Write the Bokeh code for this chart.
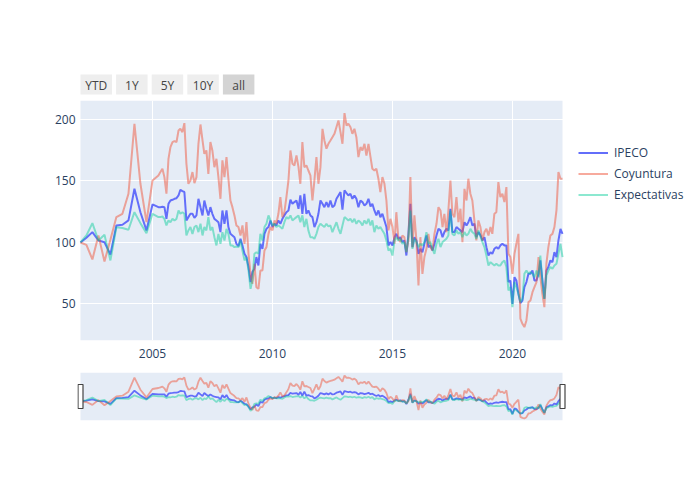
import pandas as pd
from bokeh.plotting import figure
from bokeh.layouts import column
from bokeh.models import (ColumnDataSource, Range1d, FixedTicker, Legend, LegendItem,
                          DatetimeTickFormatter)
from bokeh.core.properties import value
from bokeh.embed import file_html
from bokeh.resources import INLINE

# ---------------- data ----------------
# quarterly 2002Q1..2005Q2, then monthly 2005-05..2022-02
dates_quarterly = list(pd.date_range("2002-01-01", "2005-04-01", freq="QS"))
dates_monthly = list(pd.date_range("2005-05-01", "2022-02-01", freq="MS"))
dates = dates_quarterly + dates_monthly

ipeco = [
    100, 103.8, 108.4, 101.6, 100.2, 90.2, 113.8, 114.4, 117.9, 143.7, 124.6, 109.8, 130.9, 128.7,
    128.7, 129, 128.7, 119.2, 131.4, 134.1, 134.7, 135.5, 136, 138.2, 142.8, 141.7, 141, 117.9,
    120.6, 123.3, 123.3, 120, 122, 135.5, 128.7, 122, 134.1, 127.4, 122, 128.7, 123.3, 119.2,
    117.9, 116.5, 108.4, 126, 115.2, 126, 112.5, 107, 105.7, 104.3, 98.9,
    97, 103, 97.6, 90.8, 88.1, 80, 67.8, 75.9, 78.6, 88.1, 81.3, 98.9, 94.8, 107, 111.1, 112.5,
    117.9, 112.5, 115.2, 113.8, 117.9, 115.2, 119.2, 122, 124.6, 126, 134.7, 131.4, 132.8, 134.1,
    127.4, 138.2, 123.3, 139.6, 123.3, 126, 122, 120.6, 112.5, 116.5,
    123.3, 134.1, 131.4, 128.7, 132.8, 128.7, 134.1, 128.7, 130, 135.5, 138.2, 140.9, 126.6, 142.3,
    140.1, 138.2, 139.6, 135.5, 138.2, 135.5, 128.7, 134.1, 132.8, 130, 131.4, 135.5, 129.2, 131.4,
    126, 122, 126, 120.6, 123.3, 117.9, 112.5, 97.6, 100.3, 97.6, 104.3, 107,
    103, 104.3, 100.3, 101.6, 89.4, 107, 131.4, 96.2, 104.3, 101.6, 90.8, 94.8, 92.1, 98.9, 105.7,
    96.2, 97.6, 93.5, 98.9, 105.7, 111.1, 109.8, 104.3, 108.4, 111.1, 109.8, 127.4, 108.4, 108.4,
    112.5, 111.1, 109.8, 108.4, 116.5, 113.8, 116.5, 120.6, 113.8, 115.2, 104.3,
    108.4, 106, 101.6, 104.3, 96.2, 89.4, 92.1, 90.8, 94.8, 96.2, 94.8, 97.6, 98.9, 97.6, 97.6,
    67.8, 69.1, 50.1, 71.8, 69.1, 58.3, 50.7, 52.8, 63.7, 67.8, 74.5, 74.5, 77.2, 69.1, 69.1,
    74.5, 85.4, 69.1, 54.2, 77.2, 80, 85.4, 84, 92.1, 88.1, 101.6, 111.1, 107,
]

coyuntura = [
    100, 98, 86.2, 105.7, 84.6, 102.2, 120.6, 123.3, 139.6, 196.5, 147.7, 116.5, 150.4, 154.5,
    157.2, 159.9, 153.1, 139.6, 168, 177.5, 181.6, 182.4, 181.6, 191, 192.4, 189.7, 197, 164,
    147.7, 150.4, 157.2, 148.2, 153.1, 180.2, 195.9, 182.9, 172.1, 174.8, 155.8, 181.6, 174.8, 161.2,
    168, 153.1, 135.5, 166.7, 153.1, 169.4, 151.8, 134.1, 128.7, 122, 113.8,
    112.5, 105.7, 113.8, 98.9, 116.5, 90.8, 74.5, 66.4, 82.7, 63.7, 62.3, 77.2, 77.2, 93.5, 96.2,
    107, 112.5, 109.8, 117.9, 115.2, 123.3, 136.9, 120.6, 124.6, 136.9, 150.4, 174.8, 164, 162.6,
    170.7, 161.2, 147.7, 181.6, 161.2, 162.6, 158.5, 154.5, 134.1, 150.4, 169.4,
    147.7, 161.2, 192.4, 182.9, 176.2, 180.2, 182.9, 185.6, 188.3, 193.8, 199.2, 189.7, 180.2, 205.1,
    195.1, 196.5, 193.8, 188.3, 192.4, 185.6, 169.4, 177.5, 174.8, 180.2, 170.7, 180.2, 169.4, 159.9,
    158.5, 159.9, 151.8, 140.9, 153.1, 147.7, 134.1, 109.8, 119.2, 112.5, 98.9, 124.6,
    103, 100.3, 105.7, 104.3, 92.1, 101.6, 153.1, 96.2, 122, 101.6, 65, 104.3, 74.5, 88.1, 94.8,
    107, 96.2, 93.5, 107, 115.2, 128.7, 126, 112.5, 123.3, 108.4, 126, 150.4, 123.3, 120.6,
    136.9, 116.5, 127.4, 100.3, 143.6, 134.1, 151.8, 139.6, 134.1, 117.9, 101.6,
    117.9, 112.5, 101.6, 108.4, 111.1, 105.7, 112.5, 107, 123.3, 124.6, 149, 136.9, 139.6, 132.8, 145,
    90.8, 88.1, 74.5, 90.8, 98.9, 107, 38, 33.9, 31.2, 36.6, 51.5, 52.8, 59.6, 63.7, 67.8,
    88.1, 71.8, 58.3, 47.4, 82.7, 96.2, 105.7, 107, 112.5, 126, 157.2, 151.8, 151.8,
]

expectativas = [
    100, 105.7, 115.7, 101.6, 106.3, 85.4, 112.4, 111.7, 110.3, 124.6, 115.7, 107.6, 123.3, 120.6,
    120.6, 121.1, 119.2, 113.8, 117.9, 116.5, 119.2, 117.9, 119.2, 126, 123.3, 124.6, 123.3, 105.7,
    109.8, 112.5, 107, 112.5, 113.8, 108.4, 115.2, 105.7, 112.5, 109.8, 120.6, 109.8, 112.5, 104.3,
    97.6, 107, 98.9, 108.4, 101.6, 111.1, 107, 97.6, 97.6, 96.2, 96.7,
    96.2, 101.6, 93.5, 85.4, 88.1, 77.2, 62.3, 69.1, 90.8, 92.1, 90.8, 107, 101.6, 112.5, 115.2,
    122, 117.9, 113.8, 115.2, 112.5, 113.8, 112.5, 111.1, 116.5, 120.6, 119.2, 122, 117.9, 119.2,
    120.6, 122, 116.5, 122, 112.5, 119.2, 109.8, 104.3, 104.3, 103, 107,
    112.5, 115.2, 113.8, 112.5, 115.2, 113, 113.8, 108.4, 112.5, 116.5, 111.1, 107, 113.8, 120.6,
    119.2, 117.9, 119.2, 116.5, 119.2, 115.2, 117.9, 116.5, 113.8, 117.9, 115.2, 119.2, 113.8, 117.9,
    108.4, 113.8, 111.1, 112.5, 109.8, 107, 101.6, 93.5, 94.8, 89.4, 101.6, 104.3,
    101.6, 103, 98.9, 100.3, 92.1, 104.3, 126, 94.8, 103, 100.3, 96.2, 98.9, 97.6, 100.3, 108.4,
    98.9, 100.3, 94.8, 90.8, 98.9, 103, 96.2, 100.3, 101.6, 103, 105.7, 126, 107, 105.7,
    109.8, 107, 108.4, 104.3, 108.4, 105.7, 107, 111.1, 108.4, 107, 103,
    109.8, 105, 100.3, 96.2, 89.4, 81.3, 84, 82.7, 81.3, 82.7, 81.3, 81.3, 84, 85.4, 80,
    61, 63.7, 47.4, 67.8, 63.7, 58.3, 51.5, 54.2, 74.5, 77.2, 74.5, 75.9, 74.5, 71.8, 77.2,
    71.8, 89.4, 67.8, 54.2, 73.2, 77.2, 80, 78.6, 81.3, 82.7, 90.8, 98.9, 88.1,
]

series_names = ["IPECO", "Coyuntura", "Expectativas"]
series_colors = ["#636efa", "#EF553B", "#00cc96"]
series_alpha = [1.0, 0.5, 0.45]
y_ticks = [50, 100, 150, 200]
x_tick_years = ["2005", "2010", "2015", "2020"]
buttons = ["YTD", "1Y", "5Y", "10Y", "all"]
active_button = "all"

assert len(dates) == len(ipeco) == len(coyuntura) == len(expectativas)

FONT = "Open Sans"
TXT = "#2a3f5f"
BG = "#E5ECF6"

src = ColumnDataSource(dict(date=dates, IPECO=ipeco, Coyuntura=coyuntura, Expectativas=expectativas))


def ms(ts):
    return pd.Timestamp(ts).value / 1e6


t0, t1 = ms(dates[0]), ms(dates[-1])

# All three stacked figures share one frame: x from 77 px to the right edge.
# The data area spans 80..562 px; outside it the frame is plain white.
FL, FR = 77, 700
mpp = (t1 - t0) / 482.0
xr = Range1d(t0 - (80 - FL) * mpp, t1 + (FR - 562) * mpp)

# ---------------- range selector buttons ----------------
top = figure(width=700, height=100, x_range=Range1d(FL, FR), y_range=Range1d(100, 0),
             x_axis_type=None, y_axis_type=None, output_backend="svg",
             min_border_left=FL, min_border_right=0, min_border_top=0, min_border_bottom=0,
             toolbar_location=None, outline_line_color=None, background_fill_color="white",
             border_fill_color="white")
top.grid.visible = False
b_left = [80 + i * 35.6 for i in range(len(buttons))]
b_right = [l + 31.5 for l in b_left]
b_fill = ["#d4d4d4" if b == active_button else "#eeeeee" for b in buttons]
bsrc = ColumnDataSource(dict(left=b_left, right=b_right, fill=b_fill, label=buttons,
                             cx=[(l + r) / 2 for l, r in zip(b_left, b_right)]))
top.quad(left="left", right="right", top=74, bottom=94, fill_color="fill", line_color=None, source=bsrc)
top.text(x="cx", y=84.5, text="label", text_align="center", text_baseline="middle",
         text_font=value(FONT), text_font_size="12px", text_color="#444444", source=bsrc)

# ---------------- main chart ----------------
Y0, Y1 = 20.3, 215.4
p = figure(width=700, height=270, x_axis_type="datetime", output_backend="svg", toolbar_location=None,
           x_range=xr, y_range=Range1d(Y0, Y1),
           min_border_left=FL, min_border_right=0, min_border_top=0, min_border_bottom=30,
           background_fill_color="white", border_fill_color="white", outline_line_color=None)
p.quad(left=t0, right=t1, bottom=Y0, top=Y1, fill_color=BG, line_color=None, level="image")

renderers = []
for name, col, a in zip(series_names, series_colors, series_alpha):
    r = p.line("date", name, source=src, line_color=col, line_alpha=a, line_width=2)
    renderers.append(r)

p.xaxis.ticker = FixedTicker(ticks=[ms(f"{y}-01-01") for y in x_tick_years])
p.xaxis.formatter = DatetimeTickFormatter(years="%Y", months="%Y", days="%Y", hours="%Y")
p.yaxis.ticker = FixedTicker(ticks=y_ticks)
for ax in (p.xaxis, p.yaxis):
    ax.axis_line_color = None
    ax.major_tick_line_color = None
    ax.minor_tick_line_color = None
    ax.major_tick_out = 0
    ax.major_tick_in = 0
    ax.minor_tick_out = 0
    ax.major_label_text_font = FONT
    ax.major_label_text_font_size = "12px"
    ax.major_label_text_color = TXT
p.xaxis.major_label_standoff = 8
p.yaxis.major_label_standoff = 2
p.grid.grid_line_color = "white"
p.grid.grid_line_width = 1

legend = Legend(items=[LegendItem(label=n, renderers=[r]) for n, r in zip(series_names, renderers)],
                location=(578 - FL, 137.5), orientation="vertical")
legend.background_fill_alpha = 0
legend.border_line_color = None
legend.label_text_font = FONT
legend.label_text_font_size = "12px"
legend.label_text_color = TXT
legend.glyph_width = 30
legend.glyph_height = 17
legend.label_height = 17
legend.spacing = 4
legend.padding = 0
legend.margin = 0
legend.label_standoff = 6
p.add_layout(legend)

# ---------------- range slider ----------------
all_vals = ipeco + coyuntura + expectativas
ylo, yhi = min(all_vals) - 8, max(all_vals) + 12
s = figure(width=700, height=130, x_axis_type=None, y_axis_type=None, output_backend="svg",
           toolbar_location=None, x_range=xr, y_range=Range1d(ylo, yhi),
           min_border_left=FL, min_border_right=0, min_border_top=2, min_border_bottom=80,
           background_fill_color="white", border_fill_color="white", outline_line_color=None)
s.grid.visible = False
s.quad(left=t0, right=t1, bottom=ylo, top=yhi, fill_color=BG, line_color=None)
for name, col, a in zip(series_names, series_colors, series_alpha):
    s.line("date", name, source=src, line_color=col, line_alpha=a, line_width=1.8)
s.rect(x=[t0, t1], y=[(ylo + yhi) / 2] * 2, width=5, height=24, width_units="screen",
       height_units="screen", fill_color="white", line_color="#444444", line_width=1.2)

layout = column(top, p, s, spacing=0)
open("out.html", "w").write(file_html(layout, INLINE))
